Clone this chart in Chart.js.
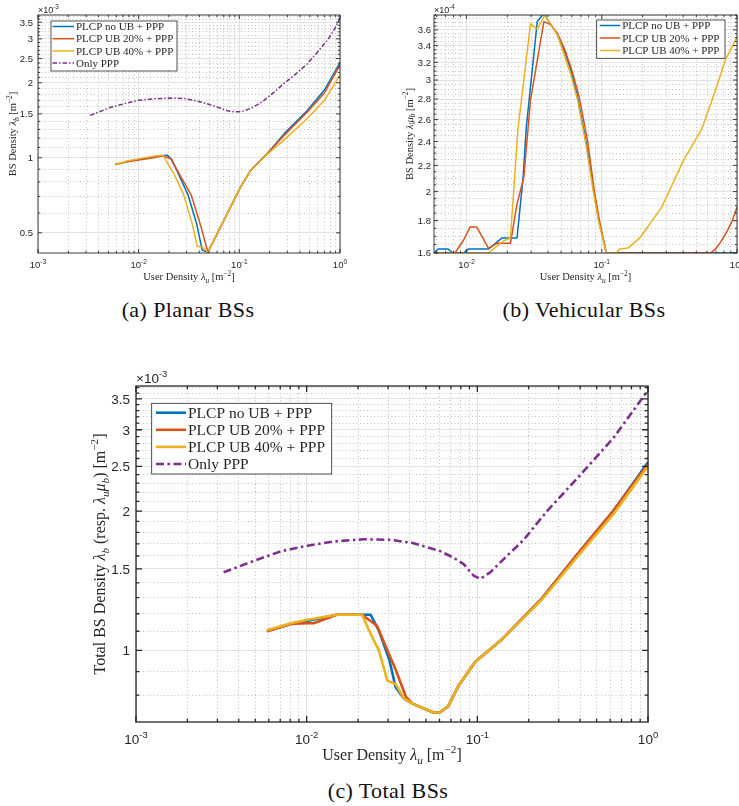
<!DOCTYPE html>
<html>
<head>
<meta charset="utf-8">
<title>BS density vs user density</title>
<script src="https://cdn.jsdelivr.net/npm/chart.js@4.4.1/dist/chart.umd.min.js"></script>
<style>
  body { margin: 0; background: #fff; }
  #page { position: relative; width: 739px; height: 806px; overflow: hidden; }
  canvas { position: absolute; }
  .cap { position: absolute; font-family: "Liberation Serif", "DejaVu Serif", serif; font-size: 22px;
         letter-spacing: 0.4px; line-height: 24px; color: #111; transform: translateX(-50%); white-space: nowrap; }
</style>
</head>
<body>
<div id="page">
  <canvas id="planar" width="365" height="285" style="left:0;top:0"></canvas>
  <canvas id="vehicular" width="369" height="285" style="left:370px;top:0"></canvas>
  <canvas id="total" width="739" height="410" style="left:0;top:360px"></canvas>
  <div class="cap" style="left:188px;top:298px">(a) Planar BSs</div>
  <div class="cap" style="left:584px;top:298px">(b) Vehicular BSs</div>
  <div class="cap" style="left:388px;top:779px">(c) Total BSs</div>
</div>
<script>
// Shared
const seriesLabels = ['PLCP no UB + PPP', 'PLCP UB 20% + PPP', 'PLCP UB 40% + PPP', 'Only PPP'];
const xDecades = [0.001, 0.01, 0.1, 1];
const xDecadeExp = ['-3', '-2', '-1', '0'];

// (a) Planar BSs, y in 1e-3 m^-2
const aNoUbX = [0.00585, 0.00766, 0.0100, 0.0141, 0.0192, 0.0215, 0.0310, 0.0376, 0.0428, 0.0487, 0.0652, 0.103, 0.130, 0.190, 0.279, 0.476, 0.700, 1.000];
const aNoUbY = [0.940, 0.967, 0.985, 1.010, 1.025, 0.979, 0.708, 0.545, 0.426, 0.418, 0.528, 0.765, 0.892, 1.040, 1.250, 1.550, 1.870, 2.410];
const aUb20X = [0.00585, 0.00766, 0.0100, 0.0141, 0.0171, 0.0207, 0.0333, 0.0412, 0.0487, 0.0652, 0.103, 0.130, 0.190, 0.279, 0.476, 0.700, 1.000];
const aUb20Y = [0.940, 0.965, 0.980, 1.000, 1.018, 0.994, 0.708, 0.537, 0.418, 0.528, 0.765, 0.892, 1.040, 1.230, 1.530, 1.820, 2.360];
const aUb40X = [0.00585, 0.00766, 0.0100, 0.0141, 0.0175, 0.0207, 0.0223, 0.0281, 0.0340, 0.0382, 0.0428, 0.0487, 0.0652, 0.103, 0.130, 0.190, 0.279, 0.476, 0.700, 1.000];
const aUb40Y = [0.940, 0.970, 0.990, 1.015, 1.025, 0.906, 0.866, 0.708, 0.545, 0.442, 0.439, 0.418, 0.528, 0.765, 0.892, 1.035, 1.180, 1.440, 1.700, 2.150];
const aPppX = [0.0033, 0.0052, 0.0075, 0.0100, 0.0145, 0.0207, 0.0285, 0.0353, 0.0430, 0.0518, 0.0640, 0.0760, 0.0880, 0.0997, 0.113, 0.130, 0.150, 0.176, 0.220, 0.279, 0.370, 0.476, 0.600, 0.754, 0.880, 1.000];
const aPppY = [1.48, 1.59, 1.655, 1.70, 1.725, 1.736, 1.728, 1.70, 1.67, 1.63, 1.585, 1.545, 1.53, 1.53, 1.545, 1.58, 1.63, 1.70, 1.83, 1.99, 2.18, 2.39, 2.66, 2.97, 3.28, 3.63];
const aYTicks = [0.5, 1, 1.5, 2, 2.5, 3, 3.5];
const aYLabels = ['0.5', '1', '1.5', '2', '2.5', '3', '3.5'];

// (b) Vehicular BSs, y in 1e-4 m^-2
const bNoUbX = [0.00574, 0.00614, 0.0073, 0.00795, 0.00944, 0.0103, 0.0145, 0.0183, 0.0236, 0.0262, 0.0276, 0.0333, 0.0373, 0.0419, 0.0470, 0.0526, 0.0590, 0.0662, 0.0764, 0.0872, 0.0950, 0.108, 1.000];
const bNoUbY = [1.60, 1.623, 1.623, 1.60, 1.60, 1.623, 1.623, 1.69, 1.69, 2.108, 2.517, 3.71, 3.82, 3.67, 3.55, 3.35, 3.11, 2.82, 2.40, 2.00, 1.80, 1.60, 1.60];
const bUb20X = [0.00574, 0.00819, 0.00944, 0.0106, 0.0119, 0.0145, 0.0168, 0.0211, 0.0236, 0.0265, 0.0297, 0.0373, 0.0419, 0.0470, 0.0530, 0.0600, 0.0681, 0.0786, 0.0882, 0.0961, 0.108, 0.636, 0.693, 0.755, 0.847, 0.923, 1.000];
const bUb20Y = [1.60, 1.60, 1.673, 1.758, 1.758, 1.629, 1.657, 1.657, 1.911, 2.108, 2.789, 3.71, 3.67, 3.55, 3.36, 3.11, 2.82, 2.40, 2.00, 1.80, 1.60, 1.60, 1.623, 1.663, 1.734, 1.80, 1.889];
const bUb40X = [0.00574, 0.0145, 0.0188, 0.0211, 0.0240, 0.0297, 0.0333, 0.0378, 0.0419, 0.0470, 0.0590, 0.0662, 0.0764, 0.0872, 0.0950, 0.108, 0.128, 0.1355, 0.156, 0.191, 0.277, 0.402, 0.551, 0.693, 0.822, 1.000];
const bUb40Y = [1.60, 1.60, 1.673, 1.69, 2.515, 3.68, 3.61, 3.79, 3.68, 3.53, 3.06, 2.79, 2.37, 1.98, 1.79, 1.60, 1.60, 1.623, 1.629, 1.69, 1.889, 2.24, 2.515, 2.89, 3.23, 3.51];
const bYTicks = [1.6, 1.8, 2, 2.2, 2.4, 2.6, 2.8, 3, 3.2, 3.4, 3.6];
const bYLabels = ['1.6', '1.8', '2', '2.2', '2.4', '2.6', '2.8', '3', '3.2', '3.4', '3.6'];

// (c) Total BSs, y in 1e-3 m^-2
const cNoUbX = [0.00585, 0.00807, 0.0101, 0.0150, 0.0211, 0.0237, 0.0265, 0.0305, 0.0332, 0.0372, 0.0417, 0.0553, 0.0601, 0.0673, 0.0777, 0.0973, 0.137, 0.240, 0.378, 0.627, 0.820, 1.000];
const cNoUbY = [1.100, 1.140, 1.158, 1.194, 1.194, 1.194, 1.103, 0.954, 0.832, 0.786, 0.767, 0.734, 0.734, 0.756, 0.839, 0.945, 1.050, 1.297, 1.600, 2.004, 2.300, 2.550];
const cUb20X = [0.00585, 0.00807, 0.0101, 0.0110, 0.0150, 0.0211, 0.0258, 0.0332, 0.0382, 0.0417, 0.0553, 0.0601, 0.0673, 0.0777, 0.0973, 0.137, 0.240, 0.378, 0.627, 0.820, 1.000];
const cUb20Y = [1.100, 1.140, 1.145, 1.145, 1.194, 1.194, 1.130, 0.909, 0.793, 0.767, 0.734, 0.734, 0.756, 0.839, 0.945, 1.050, 1.297, 1.600, 2.004, 2.290, 2.530];
const cUb40X = [0.00585, 0.00807, 0.0101, 0.0150, 0.0211, 0.0237, 0.0265, 0.0297, 0.0332, 0.0372, 0.0417, 0.0553, 0.0601, 0.0673, 0.0777, 0.0973, 0.137, 0.240, 0.378, 0.627, 0.820, 1.000];
const cUb40Y = [1.105, 1.145, 1.165, 1.194, 1.194, 1.086, 1.000, 0.860, 0.846, 0.786, 0.767, 0.734, 0.734, 0.756, 0.839, 0.945, 1.050, 1.290, 1.580, 1.970, 2.260, 2.500];
const cPppX = [0.00326, 0.0045, 0.00705, 0.0101, 0.01445, 0.0216, 0.031, 0.0424, 0.0608, 0.0727, 0.0832, 0.0951, 0.1041, 0.119, 0.149, 0.1866, 0.256, 0.40, 0.627, 0.82, 1.0];
const cPppY = [1.475, 1.543, 1.638, 1.684, 1.72, 1.739, 1.734, 1.705, 1.638, 1.586, 1.536, 1.451, 1.428, 1.475, 1.60, 1.733, 2.0, 2.392, 2.88, 3.30, 3.65];
const cYTicks = [1, 1.5, 2, 2.5, 3, 3.5];
const cYLabels = ['1', '1.5', '2', '2.5', '3', '3.5'];

// Styles
const SERIF = '"Liberation Serif", "DejaVu Serif", serif';
const SANS = '"Liberation Sans", Arial, sans-serif';
const INK = '#262626';
const COLORS = ['#0072BD', '#D95319', '#EDB120', '#7E2F8E'];

// draws text made of parts: [text, kind], kind = '' | 'i' | 'sub' | 'sup' | 'isub'
function richText(ctx, parts, x, y, size, family, align) {
  const segs = parts.map(([t, k]) => {
    const small = k.includes('sub') || k.includes('sup');
    const sz = small ? size * 0.7 : size;
    const it = k.includes('i') ? 'italic ' : '';
    return { t, font: it + sz + 'px ' + family, dy: k.includes('sub') ? size * 0.25 : (k.includes('sup') ? -size * 0.42 : 0) };
  });
  let w = 0;
  segs.forEach(s => { ctx.font = s.font; s.w = ctx.measureText(s.t).width; w += s.w; });
  let cx = align === 'center' ? x - w / 2 : (align === 'right' ? x - w : x);
  ctx.textAlign = 'left';
  ctx.textBaseline = 'alphabetic';
  segs.forEach(s => { ctx.font = s.font; ctx.fillText(s.t, cx, y + s.dy); cx += s.w; });
}

const xTitle = [['User Density ', ''], ['λ', 'i'], ['u', 'isub'], [' [m', ''], ['−2', 'sup'], [']', '']];

function decor(s) {
  return {
    id: 'decor',
    afterDraw(chart) {
      const { ctx, chartArea: a } = chart;
      const xs = chart.scales.x, ys = chart.scales.y;
      ctx.save();
      // inward tick marks on all four sides, then the box
      ctx.strokeStyle = INK;
      ctx.lineWidth = s.frameW;
      ctx.beginPath();
      xs.ticks.forEach(t => {
        const p = xs.getPixelForValue(t.value);
        const len = t.major ? s.tickLen : s.tickLen * 0.55;
        ctx.moveTo(p, a.bottom); ctx.lineTo(p, a.bottom - len);
        ctx.moveTo(p, a.top); ctx.lineTo(p, a.top + len);
      });
      ys.ticks.forEach(t => {
        const p = ys.getPixelForValue(t.value);
        const len = t.major ? s.tickLen : s.tickLen * 0.55;
        ctx.moveTo(a.left, p); ctx.lineTo(a.left + len, p);
        ctx.moveTo(a.right, p); ctx.lineTo(a.right - len, p);
      });
      ctx.stroke();
      ctx.strokeRect(a.left, a.top, a.right - a.left, a.bottom - a.top);

      // tick labels
      ctx.fillStyle = INK;
      s.yTicks.forEach((v, i) => {
        richText(ctx, [[s.yLabels[i], '']], a.left - s.yGap, ys.getPixelForValue(v) + s.tick * 0.36, s.tick, SANS, 'right');
      });
      xDecades.forEach((v, i) => {
        if (v < s.xMin * 0.999) return;
        richText(ctx, [['10', ''], [xDecadeExp[i], 'sup']], xs.getPixelForValue(v), a.bottom + s.xGap, s.tick, SANS, 'center');
      });
      richText(ctx, [['×10', ''], [s.expo, 'sup']], a.left, a.top - s.expoGap, s.expoSize, SANS, 'left');

      // axis titles
      richText(ctx, xTitle, (a.left + a.right) / 2, s.xTitleY, s.title, SERIF, 'center');
      ctx.save();
      ctx.translate(s.yTitleX, (a.top + a.bottom) / 2);
      ctx.rotate(-Math.PI / 2);
      richText(ctx, s.yTitle, 0, 0, s.title, SERIF, 'center');
      ctx.restore();

      // legend box
      const L = s.legend;
      ctx.fillStyle = '#fff';
      ctx.fillRect(L.x, L.y, L.w, L.h);
      ctx.lineWidth = 0.8;
      ctx.strokeStyle = INK;
      ctx.strokeRect(L.x, L.y, L.w, L.h);
      chart.data.datasets.forEach((d, i) => {
        const ry = L.y + L.first + i * L.row;
        ctx.beginPath();
        ctx.setLineDash(d.borderDash || []);
        ctx.strokeStyle = d.borderColor;
        ctx.lineWidth = d.borderWidth;
        ctx.moveTo(L.x + L.l0, ry);
        ctx.lineTo(L.x + L.l1, ry);
        ctx.stroke();
        ctx.setLineDash([]);
        ctx.fillStyle = INK;
        richText(ctx, [[d.label, '']], L.x + L.tx, ry + L.font * 0.33, L.font, SERIF, 'left');
      });
      ctx.restore();
    }
  };
}

function makeChart(id, s) {
  const xTickObjs = [];
  xDecades.forEach(d => {
    if (d >= s.xMin * 0.999 && d <= s.xMax) xTickObjs.push({ value: d, major: true });
    for (let k = 2; k <= 9; k++) {
      const v = d * k;
      if (v >= s.xMin && v <= s.xMax) xTickObjs.push({ value: v, major: false });
    }
  });
  const yTickObjs = [];
  for (let i = Math.ceil(s.yMin / s.yStep - 1e-9); i * s.yStep <= s.yMax + 1e-9; i++) {
    const v = Math.round(i * s.yStep * 1000) / 1000;
    yTickObjs.push({ value: v, major: s.yTicks.includes(v) });
  }

  const datasets = s.series.map((ser, i) => ({
    label: seriesLabels[i],
    data: ser.x.map((x, j) => ({ x: x, y: ser.y[j] })),
    borderColor: COLORS[i],
    borderWidth: s.lw,
    borderDash: i === 3 ? s.dash : [],
    borderJoinStyle: 'round',
    pointRadius: 0,
    tension: 0,
    fill: false,
    order: s.series.length - i
  }));

  const grid = {
    drawTicks: false,
    lineWidth: 1,
    color: c => (c.tick && c.tick.major) ? '#e2e2e2' : '#c2c2c2'
  };
  const border = { display: false, dash: c => (c.tick && c.tick.major) ? [] : [1, 2.5] };

  return new Chart(document.getElementById(id), {
    type: 'line',
    data: { datasets },
    options: {
      responsive: false,
      animation: false,
      events: [],
      layout: { padding: s.pad },
      plugins: { legend: { display: false }, tooltip: { enabled: false } },
      scales: {
        x: {
          type: 'logarithmic', min: s.xMin, max: s.xMax,
          ticks: { display: false, maxTicksLimit: 1000 },
          grid, border,
          afterBuildTicks: sc => { sc.ticks = xTickObjs.map(t => ({ ...t })); },
          afterFit: sc => { sc.height = s.xAxisH; }
        },
        y: {
          type: 'logarithmic', min: s.yMin, max: s.yMax,
          ticks: { display: false, maxTicksLimit: 1000 },
          grid, border,
          afterBuildTicks: sc => { sc.ticks = yTickObjs.map(t => ({ ...t })); },
          afterFit: sc => { sc.width = s.yAxisW; }
        }
      }
    },
    plugins: [decor(s)]
  });
}

makeChart('planar', {
  series: [{ x: aNoUbX, y: aNoUbY }, { x: aUb20X, y: aUb20Y }, { x: aUb40X, y: aUb40Y }, { x: aPppX, y: aPppY }],
  xMin: 0.001, xMax: 1, yMin: 0.415, yMax: 3.74, yStep: 0.1,
  yTicks: aYTicks, yLabels: aYLabels, expo: '-3',
  pad: { left: 0, top: 15, right: 25, bottom: 0 }, yAxisW: 38, xAxisH: 32,
  lw: 1.5, dash: [4.5, 2, 1.5, 2], frameW: 0.9, tickLen: 4,
  tick: 9.5, yGap: 5, xGap: 15, expoSize: 9, expoGap: 2.5,
  title: 10.5, xTitleY: 280, yTitleX: 16,
  yTitle: [['BS Density ', ''], ['λ', 'i'], ['b', 'isub'], [' [m', ''], ['−2', 'sup'], [']', '']],
  legend: { x: 51, y: 21, w: 126, h: 50, first: 5.5, row: 12.2, l0: 1.5, l1: 23, tx: 25, font: 11 }
});

makeChart('vehicular', {
  series: [{ x: bNoUbX, y: bNoUbY }, { x: bUb20X, y: bUb20Y }, { x: bUb40X, y: bUb40Y }],
  xMin: 0.00574, xMax: 1, yMin: 1.6, yMax: 3.8, yStep: 0.05,
  yTicks: bYTicks, yLabels: bYLabels, expo: '-4',
  pad: { left: 0, top: 15, right: 2, bottom: 0 }, yAxisW: 64, xAxisH: 32,
  lw: 1.5, dash: [], frameW: 0.9, tickLen: 4,
  tick: 9.5, yGap: 3, xGap: 15, expoSize: 9, expoGap: 2.5,
  title: 10.5, xTitleY: 280, yTitleX: 42.5,
  yTitle: [['BS Density ', ''], ['λ', 'i'], ['l', 'isub'], ['μ', 'i'], ['b', 'isub'], [' [m', ''], ['−2', 'sup'], [']', '']],
  legend: { x: 226.7, y: 20, w: 128.3, h: 38.3, first: 5.5, row: 12.5, l0: 3, l1: 23.5, tx: 25.5, font: 11 }
});

makeChart('total', {
  series: [{ x: cNoUbX, y: cNoUbY }, { x: cUb20X, y: cUb20Y }, { x: cUb40X, y: cUb40Y }, { x: cPppX, y: cPppY }],
  xMin: 0.001, xMax: 1, yMin: 0.73, yMax: 3.73, yStep: 0.1,
  yTicks: cYTicks, yLabels: cYLabels, expo: '-3',
  pad: { left: 0, top: 26, right: 91, bottom: 0 }, yAxisW: 136, xAxisH: 48,
  lw: 2.6, dash: [8, 3.5, 2.5, 3.5], frameW: 1.3, tickLen: 6,
  tick: 13.5, yGap: 6, xGap: 22, expoSize: 13.5, expoGap: 3,
  title: 16, xTitleY: 400, yTitleX: 105,
  yTitle: [['Total BS Density ', ''], ['λ', 'i'], ['b', 'isub'], [' (resp. ', ''], ['λ', 'i'], ['u', 'isub'], ['μ', 'i'], ['b', 'isub'], [') [m', ''], ['−2', 'sup'], [']', '']],
  legend: { x: 151.7, y: 43.3, w: 180, h: 70.7, first: 9.4, row: 17.1, l0: 4.3, l1: 34.3, tx: 36.3, font: 15.5 }
});
</script>
</body>
</html>
